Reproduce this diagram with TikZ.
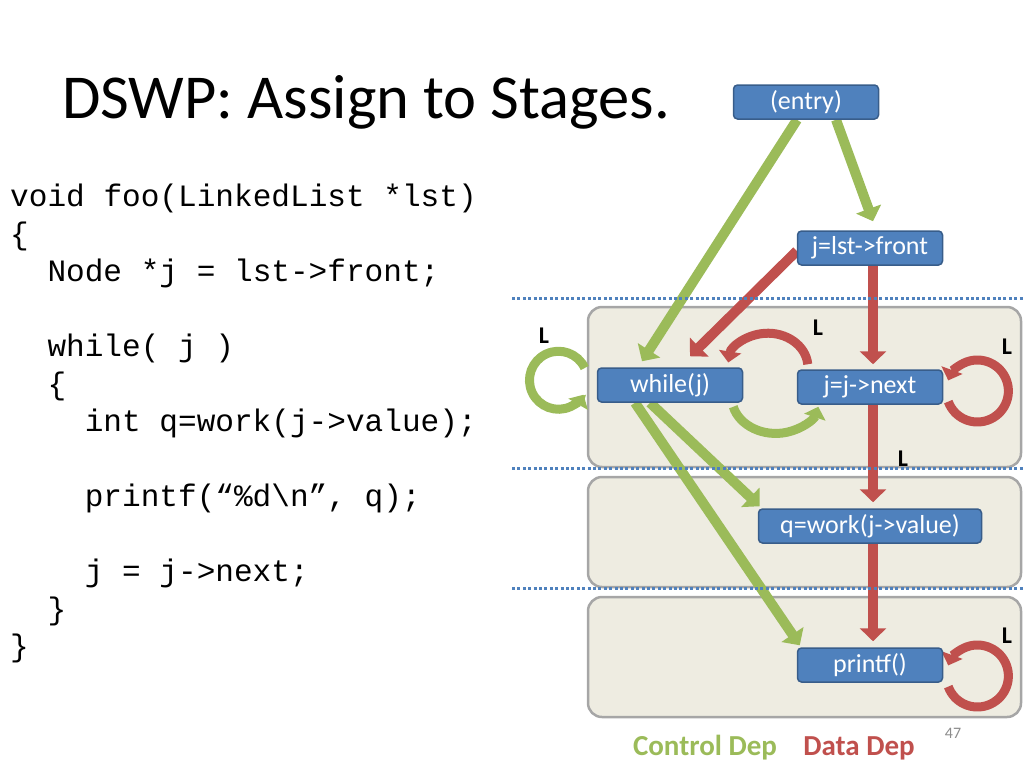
\documentclass[tikz,border=0pt]{standalone}
\usepackage{fontspec}
\setmainfont{Carlito}
\newfontfamily\codefont{Liberation Mono}
\usetikzlibrary{arrows.meta}

\definecolor{nodeblue}{HTML}{4F81BD}
\definecolor{nodeedge}{HTML}{385D8A}
\definecolor{ctrlgreen}{HTML}{9BBB59}
\definecolor{datared}{HTML}{C0504D}
\definecolor{stagefill}{HTML}{EEECE1}
\definecolor{stageedge}{HTML}{A6A6A6}
\definecolor{pagenum}{HTML}{8C8C8C}

\pgfdeclarelayer{stages}
\pgfdeclarelayer{links}
\pgfsetlayers{stages,links,main}

\tikzset{
  instr/.style={rectangle, rounded corners=4pt, draw=nodeedge, line width=1.5pt,
    fill=nodeblue, text=white, minimum width=145pt, minimum height=34pt,
    inner sep=0pt, font=\fontsize{26}{26}\selectfont},
  ctrl/.style={draw=ctrlgreen, line width=10pt, -{Triangle[length=13pt,width=26pt]}},
  data/.style={draw=datared, line width=10pt, -{Triangle[length=13pt,width=26pt]}},
  selfloop/.style={line width=9pt, -{Triangle[length=11pt,width=22pt]}},
  stagebox/.style={draw=stageedge, fill=stagefill, line width=2.5pt, rounded corners=14pt},
  cut/.style={draw=nodeblue, line width=3pt, dash pattern=on 3pt off 2.4pt},
  loopmark/.style={inner sep=0pt, font=\fontsize{24}{24}\selectfont\bfseries},
  codeline/.style={anchor=base west, inner sep=0pt, font=\codefont\fontsize{31.1}{37.5}\selectfont},
}

\begin{document}
\begin{tikzpicture}[x=1pt, y=-1pt]
    \useasboundingbox (0,0) rectangle (1024,768);

    % title and source code
    \node (title) [anchor=base west, inner sep=0pt, font=\fontsize{62.5}{62.5}\selectfont] at (62,118) {DSWP: Assign to Stages.};
    \foreach \k/\ind/\txt in {0/0/{void foo(LinkedList *lst)}, 1/0/{\{}, 2/1/{Node *j = lst->front;},
        4/1/{while( j )}, 5/1/{\{}, 6/2/{int q=work(j->value);}, 8/2/{printf(“\%d\textbackslash n”, q);},
        10/2/{j = j->next;}, 11/1/{\}}, 12/0/{\}}}
      \node (line\k) [codeline] at (10+37.3*\ind, 206.5+37.5*\k) {\txt};

    % stages
    \begin{pgfonlayer}{stages}
      \draw[stagebox] (588,307) rectangle (1021,467);
      \draw[stagebox] (588,477) rectangle (1021,587);
      \draw[stagebox] (588,597) rectangle (1021,717);
    \end{pgfonlayer}

    % PDG nodes
    \node (entry) [instr] at (806,102) {(entry)};
    \node (front) [instr] at (870,248) {j=lst->front};
    \node (whilej) [instr] at (670,385) {while(j)};
    \node (next) [instr] at (870,387) {j=j->next};
    \node (work) [instr, minimum width=223pt] at (870,526) {q=work(j->value)};
    \node (print) [instr] at (870,665) {printf()};

    % dependences
    \begin{pgfonlayer}{links}
      \draw[ctrl] ([xshift=-9pt]entry.south) -- ([xshift=-28pt,yshift=6pt]whilej.north);
      \draw[ctrl] ([xshift=30pt]entry.south) -- ([xshift=3pt,yshift=9pt]front.north);
      \draw[data] ([yshift=-3pt]front.west) -- ([xshift=20pt,yshift=11pt]whilej.north);
      \draw[data] ([xshift=3pt]front.south) -- ([xshift=3pt,yshift=5pt]next.north);
      \draw[data] ([xshift=3pt]next.south) -- ([xshift=3pt,yshift=6pt]work.north);
      \draw[data] ([xshift=3pt]work.south) -- ([xshift=3pt,yshift=6pt]print.north);
      \draw[ctrl] ([xshift=-20pt]whilej.south) -- ([xshift=2pt,yshift=2pt]work.north west);
      \draw[ctrl] ([xshift=-35pt]whilej.south) -- ([xshift=3pt,yshift=2pt]print.north west);
      % loops
      \draw[ctrl, selfloop] ([xshift=-12pt,yshift=17pt]whilej.west) arc[start angle=25, end angle=330, radius=29pt];
      \draw[data, selfloop] ([xshift=11pt,yshift=5pt]next.north west) arc[start angle=5, end angle=172, x radius=40pt, y radius=34pt];
      \draw[ctrl, selfloop] ([xshift=-10pt,yshift=-4pt]whilej.south east) arc[start angle=195, end angle=345, x radius=44pt, y radius=36pt];
      \draw[data, selfloop] ([xshift=5pt,yshift=-14.6pt]next.east) arc[start angle=-160, end angle=160, radius=31pt];
      \draw[data, selfloop] ([xshift=5pt,yshift=-21.6pt]print.east) arc[start angle=-160, end angle=160, radius=31pt];
    \end{pgfonlayer}

    % loop-carried marks
    \node (L1) [loopmark] at (544,336) {L};
    \node (L2) [loopmark] at (818,328) {L};
    \node (L3) [loopmark] at (1007,347) {L};
    \node (L4) [loopmark] at (903,459) {L};
    \node (L5) [loopmark] at (1007,636) {L};

    % stage cuts
    \foreach \y in {298,468,588}
      \draw[cut] (512,\y) -- (1024,\y);

    % legend
    \node (ctrlkey) [anchor=base, inner sep=0pt, text=ctrlgreen, font=\fontsize{29}{29}\selectfont\bfseries] at (705,755) {Control Dep};
    \node (datakey) [anchor=base, inner sep=0pt, text=datared, font=\fontsize{29}{29}\selectfont\bfseries] at (859,755) {Data Dep};
    \node (slideno) [anchor=base, inner sep=0pt, text=pagenum, font=\fontsize{16}{16}\selectfont] at (953,738) {47};
\end{tikzpicture}
\end{document}
